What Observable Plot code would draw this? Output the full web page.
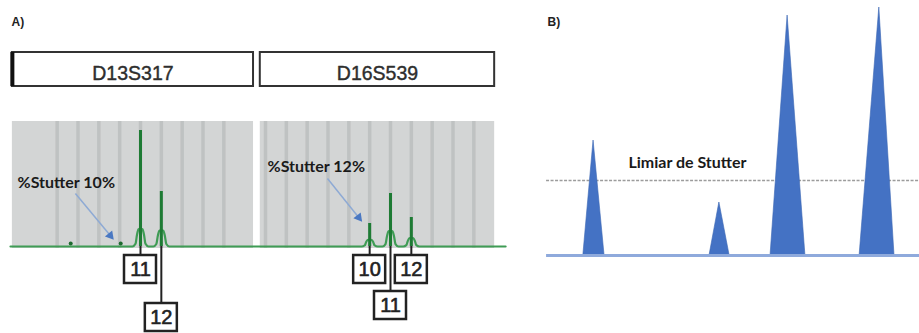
<!DOCTYPE html>
<html><head><meta charset="utf-8">
<script src="https://cdn.jsdelivr.net/npm/d3@7"></script>
<script src="https://cdn.jsdelivr.net/npm/@observablehq/plot@0.6"></script>
<style>
html,body{margin:0;padding:0;background:#fff;overflow:hidden;}
#wrap{display:flex;width:919px;height:333px;}
#wrap svg{display:block;}
</style></head><body><div id="wrap"></div>
<script>
// ---------- Panel A: electropherogram (size in bp, height in RFU) ----------
const loci = ["D13S317", "D16S539"];
const lociStart = [199.4, 247.0];
const lociEnd = [245.7, 292.0];
const binsD13 = [208, 212, 216, 220, 224, 228, 232, 236, 240];
const binsD16 = [248, 252, 256, 260, 264, 268, 272, 276, 280, 284, 288];
const peakLocus = ["D13S317", "D13S317", "D16S539", "D16S539", "D16S539"];
const peakAllele = ["11", "12", "10", "11", "12"];
const peakSize = [224, 228, 268, 272, 276];
const peakHeight = [2320, 1100, 460, 1060, 580];
const labelRow = [1, 2, 1, 2, 1];
const noiseSize = [210.6, 220.2];
const noiseHeight = [60, 60];
const stutterText = ["%Stutter 10%", "%Stutter 12%"];
const stutterTextSize = [200.4, 248.4];
const stutterTextHeight = [1270, 1590];
const arrowFromSize = [211.5, 259.9];
const arrowFromHeight = [1060, 1360];
const arrowToSize = [218.2, 265.9];
const arrowToHeight = [220, 580];

// ---------- Panel B: schematic peaks ----------
const bPeakStart = [11.3, 44.6, 60.7, 84.2];
const bPeakApex = [14.0, 47.2, 65.2, 89.4];
const bPeakEnd = [16.9, 49.9, 69.9, 93.4];
const bPeakHeight = [460, 212, 960, 992];
const stutterThreshold = 300;
const thresholdLabel = "Limiar de Stutter";

// ---------- layout ----------
const WA = 540, WB = 379, H = 333;
const xDomA = [197.12, 300.8], yDomA = [-1740, 4920];
const pxPerBp = WA / (xDomA[1] - xDomA[0]);
const rfuPerPx = (yDomA[1] - yDomA[0]) / H;
const sans = "Liberation Sans, Arial, sans-serif";
const lato = "Lato, 'Open Sans', sans-serif";

const lociData = loci.map((name, i) => ({name, x1: lociStart[i], x2: lociEnd[i]}));
const bins = [...binsD13, ...binsD16].map(x => ({x}));
const peaks = peakSize.map((x, i) => ({locus: peakLocus[i], allele: peakAllele[i], x, h: peakHeight[i], row: labelRow[i]}));
const noise = noiseSize.map((x, i) => ({x, h: noiseHeight[i]}));

// trace: baseline with rounded shoulders under each spike
const offPx = [-8, -5, -3.5, -2, 0, 2, 3.5, 5, 8];
const offFrac = [0, 0.15, 0.65, 0.95, 1, 0.95, 0.65, 0.15, 0];
const trace = [{x: 199.04, y: 0}];
peaks.slice().sort((a, b) => a.x - b.x).forEach(p => {
  const sh = Math.min(18, 0.3 * p.h / rfuPerPx);
  offPx.forEach((o, k) => trace.push({x: p.x + o / pxPerBp, y: offFrac[k] * sh * rfuPerPx}));
});
trace.push({x: 294.1, y: 0});

const rowCenter = p => p.row === 1 ? -460 : (p.locus === "D13S317" ? -1420 : -1180);
const boxHalfW = 16 / pxPerBp, boxHalfH = 14 * rfuPerPx;

const arrows = arrowFromSize.map((x1, i) => {
  const x2 = arrowToSize[i], y1 = arrowFromHeight[i], y2 = arrowToHeight[i];
  const ang = Math.atan2(-(y2 - y1) / rfuPerPx, (x2 - x1) * pxPerBp) * 180 / Math.PI;
  return {x1, y1, x2, y2, rot: ang + 90};
});
const stutterLabels = stutterText.map((t, i) => ({t, x: stutterTextSize[i], y: stutterTextHeight[i]}));

const plotA = Plot.plot({
  width: WA, height: H, margin: 0,
  x: {domain: xDomA, axis: null},
  y: {domain: yDomA, axis: null},
  style: {background: "white", overflow: "visible"},
  marks: [
    Plot.text(["A)"], {frameAnchor: "top-left", dx: 11, dy: 17, fontFamily: sans, fontWeight: "bold", fontSize: 12, fill: "#222"}),
    // locus header boxes
    Plot.rect(lociData, {x1: "x1", x2: "x2", y1: 3200, y2: 3880, fill: "white", stroke: "#333", strokeWidth: 2}),
    Plot.ruleX([lociStart[0]], {y1: 3200, y2: 3880, stroke: "#111", strokeWidth: 4}),
    Plot.text(lociData, {x: d => (d.x1 + d.x2) / 2, y: 3460, text: "name", fontFamily: sans, fontSize: 19.5, fill: "#2e2e2e", stroke: "#2e2e2e", strokeWidth: 0.4}),
    // gray bin panels
    Plot.rect(lociData, {x1: "x1", x2: "x2", y1: -40, y2: 2500, fill: "#d3d5d5"}),
    Plot.ruleX(bins, {x: "x", y1: -40, y2: 2500, stroke: "#bfc2c2", strokeWidth: 3.5}),
    // trace
    Plot.line(trace, {x: "x", y: "y", stroke: "#3f9c55", strokeWidth: 2.2, curve: "monotone-x"}),
    Plot.ruleX(peaks, {x: "x", y1: 0, y2: "h", stroke: "#1e7b34", strokeWidth: 3}),
    Plot.dot(noise, {x: "x", y: "h", r: 2, fill: "#1e6b30"}),
    // stutter annotations
    Plot.link(arrows, {x1: "x1", y1: "y1", x2: "x2", y2: "y2", stroke: "#8eaad4", strokeWidth: 1.5}),
    Plot.dot(arrows, {x: "x2", y: "y2", symbol: "triangle", r: 3.5, fill: "#4a78c2", rotate: "rot"}),
    Plot.text(stutterLabels, {x: "x", y: "y", text: "t", textAnchor: "start", fontFamily: lato, fontWeight: "bold", fontSize: 16, fill: "#1a1a1a"}),
    // allele labels
    Plot.ruleX(peaks, {x: "x", y1: 0, y2: d => rowCenter(d) + boxHalfH, stroke: "#222", strokeWidth: 2}),
    Plot.rect(peaks, {x1: d => d.x - boxHalfW, x2: d => d.x + boxHalfW, y1: d => rowCenter(d) - boxHalfH, y2: d => rowCenter(d) + boxHalfH, fill: "white", stroke: "#222", strokeWidth: 2.5}),
    Plot.text(peaks, {x: "x", y: d => rowCenter(d), text: "allele", fontFamily: sans, fontSize: 20, fill: "#222", stroke: "#222", strokeWidth: 0.6})
  ]
});

const bTri = [];
bPeakApex.forEach((a, i) => {
  bTri.push({peak: i, x: bPeakStart[i], y: 0});
  bTri.push({peak: i, x: a, y: bPeakHeight[i]});
  bTri.push({peak: i, x: bPeakEnd[i], y: 0});
});

const plotB = Plot.plot({
  width: WB, height: H, margin: 0,
  x: {domain: [0, 100], axis: null},
  y: {domain: [-312, 1020], axis: null},
  style: {background: "white", overflow: "visible"},
  marks: [
    Plot.text(["B)"], {frameAnchor: "top-left", dx: 7, dy: 17, fontFamily: sans, fontWeight: "bold", fontSize: 12, fill: "#222"}),
    Plot.ruleY([stutterThreshold], {x1: 1.6, x2: 100, stroke: "#9c9c9c", strokeWidth: 1.6, strokeDasharray: "3,1.5"}),
    Plot.areaY(bTri, {x: "x", y: "y", z: "peak", fill: "#4472c4", stroke: "#3b66b4", strokeWidth: 0.6}),
    Plot.ruleY([0], {x1: 1.6, x2: 100, stroke: "#8faadc", strokeWidth: 3}),
    Plot.text([thresholdLabel], {x: 23.2, y: 372, textAnchor: "start", fontFamily: lato, fontWeight: "bold", fontSize: 16, fill: "#1a1a1a"})
  ]
});

const wrap = document.getElementById("wrap");
wrap.appendChild(plotA);
wrap.appendChild(plotB);
</script></body></html>
